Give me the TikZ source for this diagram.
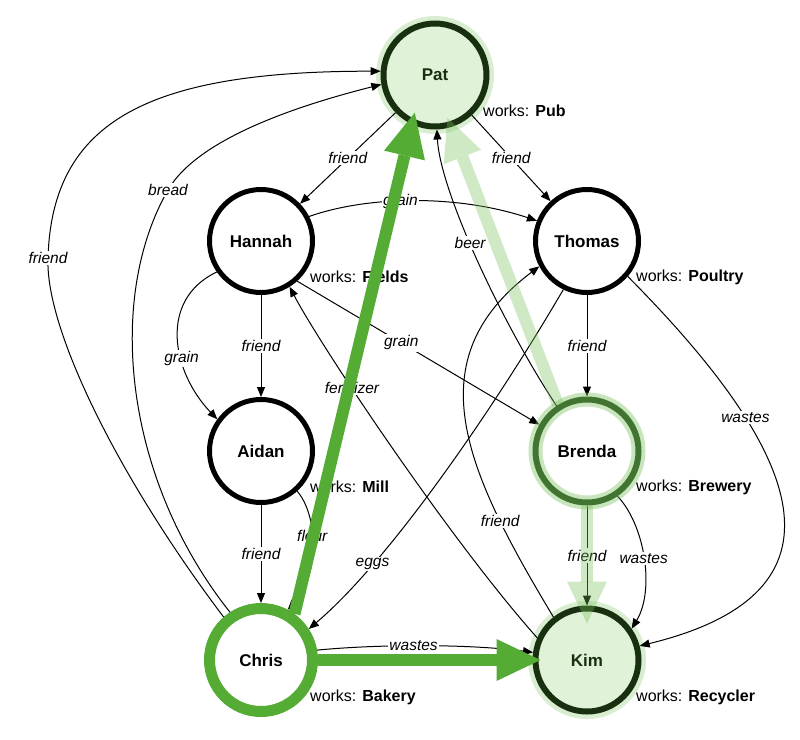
\documentclass[tikz,border=0pt]{standalone}
\usepackage{fontspec}
\setmainfont{Liberation Sans}
\usetikzlibrary{arrows.meta}
\definecolor{hl}{RGB}{84,172,52}
\definecolor{hllight}{RGB}{118,192,90}
\definecolor{dkgreen}{RGB}{24,48,16}
\definecolor{brgreen}{RGB}{28,66,20}
\definecolor{hotfill}{RGB}{224,242,216}
\begin{document}
\begin{tikzpicture}[x=1pt,y=-1pt,
  person/.style={circle,draw=black,line width=5pt,fill=white,minimum size=103pt,inner sep=0pt,
    font=\fontsize{17}{20}\selectfont\bfseries},
  hot/.style={person,draw=dkgreen,line width=6pt,fill=hotfill,text=dkgreen},
  works/.style={anchor=west,inner sep=0pt,font=\fontsize{16}{19}\selectfont},
  rel/.style={line width=1pt,-{Triangle[length=10pt,width=8pt]}},
  lbl/.style={fill=white,inner sep=1.5pt,font=\fontsize{15.5}{18}\selectfont\itshape},
  glow/.style={draw=hllight,opacity=0.35},
  bigarrow/.style={draw=hl,line width=12pt,-{Triangle[length=44pt,width=42pt,line width=0pt]}},
  lightarrow/.style={draw=hllight,opacity=0.35,line width=12pt,-{Triangle[length=42pt,width=40pt,line width=0pt]}},
]
\useasboundingbox (0,0) rectangle (800,739);

% positions
\coordinate (Pp) at (435,75);
\coordinate (Kp) at (587,660);
% outer glows of highlighted nodes
\draw[glow,opacity=0.28,line width=8pt] (Pp) circle (55pt);
\draw[glow,opacity=0.28,line width=8pt] (Kp) circle (55pt);

% nodes
\node[hot] (pat) at (Pp) {Pat};
\node[person] (hannah) at (261,241) {Hannah};
\node[person] (thomas) at (587,241) {Thomas};
\node[person] (aidan) at (261,451) {Aidan};
\node[person,draw=brgreen,line width=6pt] (brenda) at (587,451) {Brenda};
\node[person,draw=hl,line width=11pt] (chris) at (261,660) {Chris};
\node[hot] (kim) at (Kp) {Kim};

% works labels
\node[works] (patw) at ([shift={(48,36)}]pat.center) {works: \textbf{Pub}};
\node[works] (hannahw) at ([shift={(49,36)}]hannah.center) {works: \textbf{Fields}};
\node[works] (thomasw) at ([shift={(49,36)}]thomas.center) {works: \textbf{Poultry}};
\node[works] (aidanw) at ([shift={(49,36)}]aidan.center) {works: \textbf{Mill}};
\node[works] (brendaw) at ([shift={(49,36)}]brenda.center) {works: \textbf{Brewery}};
\node[works] (chrisw) at ([shift={(49,37)}]chris.center) {works: \textbf{Bakery}};
\node[works] (kimw) at ([shift={(49,37)}]kim.center) {works: \textbf{Recycler}};

% relations
\draw[rel] (pat) -- node[lbl]{friend} (hannah);
\draw[rel] (pat) -- node[lbl]{friend} (thomas);
\draw[rel] (hannah.27) .. controls (370,195) and (460,195) .. node[lbl,pos=0.43]{grain} (thomas.158);
\draw[rel] (hannah) -- node[lbl]{friend} (aidan);
\draw[rel] (hannah.215) .. controls (158,300) and (172,372) .. node[lbl,pos=0.62]{grain} (aidan.144);
\draw[rel] (hannah.-48) -- node[lbl,pos=0.43]{grain} (brenda.151);
\draw[rel] (aidan) -- node[lbl]{friend} (chris);
\draw[rel] (aidan.-48) .. controls (318,515) and (320,575) .. node[lbl,pos=0.42]{flour} (chris.62);
\draw[rel] (chris.131) .. controls (120,480) and (45,330) .. (48,258) node[lbl]{friend}
  .. controls (52,120) and (150,71) .. (pat.176);
\draw[rel] (chris.123) .. controls (125,480) and (105,300) .. (168,190) node[lbl]{bread}
  .. controls (198,138) and (300,105) .. (pat.190);
\draw[rel] (chris.10) .. controls (380,644) and (470,644) .. node[lbl,pos=0.45]{wastes} (kim.172);
\draw[rel] (thomas.244) .. controls (493,410) and (389,561) .. node[lbl,pos=0.75]{eggs} (chris.33);
\draw[rel] (thomas.-41) .. controls (790,440) and (870,590) .. node[lbl,pos=0.3]{wastes} (kim.15);
\draw[rel] (thomas) -- node[lbl]{friend} (brenda);
\draw[rel] (brenda) -- node[lbl]{friend} (kim);
\draw[rel] (brenda.-56) .. controls (645,525) and (655,590) .. node[lbl,pos=0.5]{wastes} (kim.35);
\draw[rel] (brenda.124) .. controls (500,320) and (440,190) .. node[lbl,pos=0.55]{beer} (pat.272);
\draw[rel] (kim.156) .. controls (450,540) and (320,345) .. node[lbl,pos=0.65]{fertilizer} (hannah.-58);
\draw[rel] (kim.128) .. controls (465,470) and (415,360) .. node[lbl,pos=0.23]{friend} (thomas.208);

% light highlight
\draw[glow,opacity=0.4,line width=14pt] (brenda.center) circle (51.5pt);
\draw[lightarrow,shorten >=-10pt] (brenda.122) -- (pat.287);
\draw[lightarrow,shorten >=-18pt] (brenda.south) -- (kim.north);

% bright highlight
\draw[bigarrow,shorten >=-12pt] (chris.54) -- (pat.245);
\draw[bigarrow,shorten >=-8pt] (chris.east) -- (kim.west);
\end{tikzpicture}
\end{document}
